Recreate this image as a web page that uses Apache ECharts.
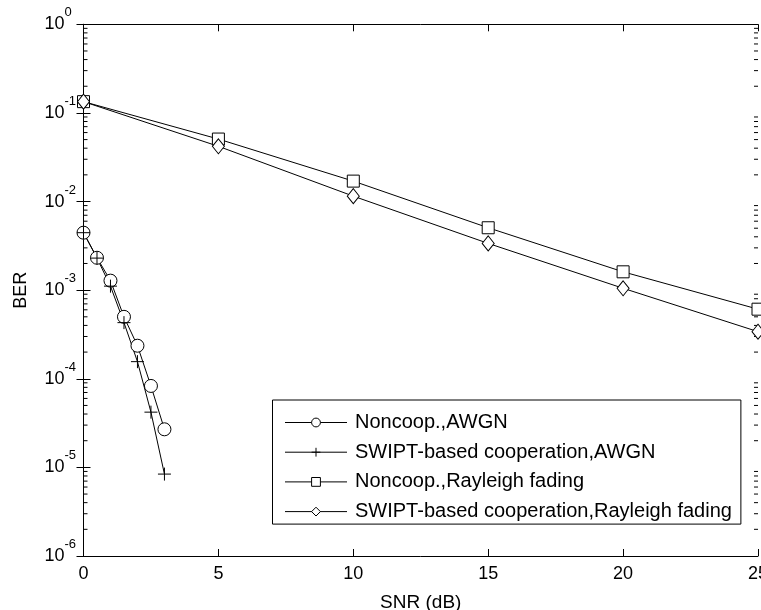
<!DOCTYPE html>
<html>
<head>
<meta charset="utf-8">
<script src="https://cdn.jsdelivr.net/npm/echarts@6/dist/echarts.min.js"></script>
<style>html,body{margin:0;padding:0;background:#fff}#c{width:761px;height:610px}</style>
</head>
<body>
<div id="c"></div>
<script>
// ---- data ----
const snrAwgn = [0, 0.5, 1, 1.5, 2, 2.5, 3];
const berNoncoopAwgn = [4.45e-3, 2.32e-3, 1.28e-3, 5.0e-4, 2.36e-4, 8.3e-5, 2.69e-5];
const berSwiptAwgn = [4.45e-3, 2.3e-3, 1.11e-3, 4.3e-4, 1.56e-4, 4.2e-5, 8.4e-6];
const snrRay = [0, 5, 10, 15, 20, 25];
const berNoncoopRay = [0.134, 0.0507, 0.017, 5.06e-3, 1.61e-3, 6.1e-4];
const berSwiptRay = [0.134, 0.042, 0.0115, 3.37e-3, 1.05e-3, 3.4e-4];
const seriesNames = ['Noncoop.,AWGN', 'SWIPT-based cooperation,AWGN', 'Noncoop.,Rayleigh fading', 'SWIPT-based cooperation,Rayleigh fading'];
const xTicks = [0, 5, 10, 15, 20, 25];
const yDecades = [-6, -5, -4, -3, -2, -1, 0];
const minorMult = [2, 3, 4, 5, 6, 7, 8, 9];

const FONT = 'Liberation Sans, Arial, Helvetica, sans-serif';
const xMin = xTicks[0], xMax = xTicks[xTicks.length - 1];
const yMin = Math.pow(10, yDecades[0]), yMax = Math.pow(10, yDecades[yDecades.length - 1]);

const zip = (xs, ys) => xs.map((x, i) => [x, ys[i]]);
const minorData = [];
for (let d = yDecades[0]; d < yDecades[yDecades.length - 1]; d++) {
  for (const m of minorMult) minorData.push([xMin, m * Math.pow(10, d)]);
}

const axisLineStyle = { color: '#000', width: 1 };
const xAxisBase = {
  type: 'value', min: xMin, max: xMax, interval: 5,
  axisLine: { show: true, lineStyle: axisLineStyle },
  axisTick: { show: true, inside: true, length: 7, lineStyle: axisLineStyle },
  splitLine: { show: false }
};
const yAxisBase = {
  type: 'log', logBase: 10, min: yMin, max: yMax, interval: 1,
  axisLine: { show: true, lineStyle: axisLineStyle },
  axisTick: { show: true, inside: true, length: 7, lineStyle: axisLineStyle },
  splitLine: { show: false }, minorTick: { show: false }
};

const lineBase = {
  type: 'line',
  lineStyle: { color: '#000', width: 1 },
  itemStyle: { color: '#fff', borderColor: '#000', borderWidth: 1 },
  showAllSymbol: true, animation: false, z: 3
};

const chart = echarts.init(document.getElementById('c'), null, { renderer: 'canvas' });
chart.setOption({
  animation: false,
  backgroundColor: '#fff',
  textStyle: { fontFamily: FONT, color: '#000' },
  grid: { left: 83.5, right: 3, top: 24.3, bottom: 54, containLabel: false, outerBoundsMode: 'none' },
  xAxis: [
    Object.assign({}, xAxisBase, {
      position: 'bottom',
      axisLabel: { show: true, fontSize: 18, margin: 9, color: '#000', fontFamily: FONT, hideOverlap: false },
      name: 'SNR (dB)', nameLocation: 'middle', nameGap: 37,
      nameTextStyle: { fontSize: 19, color: '#000', fontFamily: FONT }
    }),
    Object.assign({}, xAxisBase, { position: 'top', axisLabel: { show: false } })
  ],
  yAxis: [
    Object.assign({}, yAxisBase, {
      position: 'left',
      axisLabel: {
        show: true, align: 'left', margin: 39, color: '#000', fontFamily: FONT,
        formatter: v => '{b|10}{s|' + Math.round(Math.log10(v)) + '}',
        rich: {
          b: { fontSize: 18, lineHeight: 36, fontFamily: FONT, color: '#000' },
          s: { fontSize: 13, lineHeight: 13, verticalAlign: 'top', fontFamily: FONT, color: '#000' }
        }
      },
      name: 'BER', nameLocation: 'middle', nameGap: 53,
      nameTextStyle: { fontSize: 18, color: '#000', fontFamily: FONT }
    }),
    Object.assign({}, yAxisBase, { position: 'right', axisLabel: { show: false } })
  ],
  legend: {
    data: seriesNames,
    orient: 'vertical', left: 272.5, top: 400,
    backgroundColor: '#fff', borderColor: '#000', borderWidth: 1,
    padding: [12.5, 9, 2.5, 12],
    itemWidth: 62, itemHeight: 11, itemGap: 9.7,
    lineStyle: { width: 1, color: '#000' },
    itemStyle: { borderWidth: 1, borderColor: '#000', color: '#fff' },
    textStyle: { fontSize: 20, lineHeight: 20, color: '#000', fontFamily: FONT, padding: [0, 0, 0, 3] },
    selectedMode: false
  },
  series: [
    Object.assign({}, lineBase, { name: seriesNames[0], data: zip(snrAwgn, berNoncoopAwgn), symbol: 'circle', symbolSize: 13 }),
    Object.assign({}, lineBase, { name: seriesNames[1], data: zip(snrAwgn, berSwiptAwgn), symbol: 'path://M5,0L5,10M0,5L10,5', symbolSize: 13 }),
    Object.assign({}, lineBase, { name: seriesNames[2], data: zip(snrRay, berNoncoopRay), symbol: 'rect', symbolSize: 12 }),
    Object.assign({}, lineBase, { name: seriesNames[3], data: zip(snrRay, berSwiptRay), symbol: 'diamond', symbolSize: [12, 15] }),
    {
      type: 'custom', name: 'minor', silent: true, clip: false, z: 2,
      data: minorData,
      renderItem: function (params, api) {
        const v = api.value(1);
        const pL = api.coord([xMin, v]);
        const pR = api.coord([xMax, v]);
        const st = { stroke: '#000', lineWidth: 1 };
        return {
          type: 'group', children: [
            { type: 'line', shape: { x1: pL[0], y1: pL[1], x2: pL[0] + 4, y2: pL[1] }, style: st },
            { type: 'line', shape: { x1: pR[0], y1: pR[1], x2: pR[0] - 4, y2: pR[1] }, style: st }
          ]
        };
      }
    }
  ]
});
</script>
</body>
</html>
